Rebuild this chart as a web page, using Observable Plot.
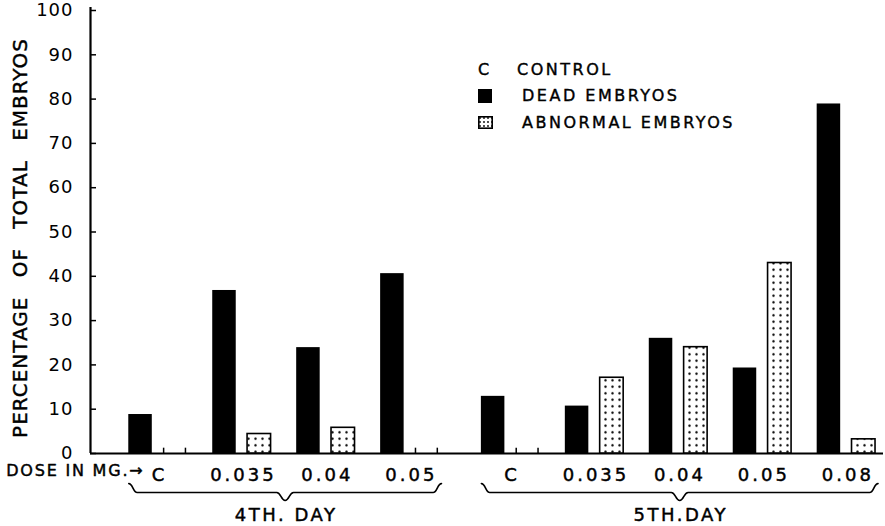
<!DOCTYPE html>
<html>
<head>
<meta charset="utf-8">
<script src="https://cdn.jsdelivr.net/npm/d3@7"></script>
<script src="https://cdn.jsdelivr.net/npm/@observablehq/plot@0.6"></script>
<style>
  body { margin: 0; background: #fff; }
  #wrap { position: relative; width: 885px; height: 526px; font-family: "DejaVu Sans", sans-serif; color: #000; }
  #wrap svg.chart { position: absolute; left: 0; top: 0; }
  .lg { position: absolute; font-size: 16px; line-height: 16px; letter-spacing: 2.5px; white-space: nowrap; -webkit-text-stroke: 0.4px #000; }
  .sw { position: absolute; }
</style>
</head>
<body>
<div id="wrap">
  <div id="legend"></div>
</div>
<script>
// ---------- data ----------
const doses = ["C", "0.035", "0.04", "0.05", "C", "0.035", "0.04", "0.05", "0.08"];
const dayOf = ["4TH. DAY", "4TH. DAY", "4TH. DAY", "4TH. DAY", "5TH.DAY", "5TH.DAY", "5TH.DAY", "5TH.DAY", "5TH.DAY"];
const days = ["4TH. DAY", "5TH.DAY"];
const deadEmbryos = [8.8, 36.8, 23.9, 40.6, 12.9, 10.7, 26.0, 19.3, 78.9];
const abnormalEmbryos = [0, 4.4, 5.8, 0, 0, 17.1, 24.0, 43.0, 3.2];
const yTicks = [0, 10, 20, 30, 40, 50, 60, 70, 80, 90, 100];
const legendLabels = ["CONTROL", "DEAD EMBRYOS", "ABNORMAL EMBRYOS"];
const yTitle = "PERCENTAGE OF TOTAL EMBRYOS";
const doseTitle = "DOSE IN MG.\u2192";

// ---------- layout (in x-scale units: one unit = one dose group) ----------
const DAY_GAP = 0.2, BAR_W = 0.28, ABN_OFF = 0.415;
const X_DOMAIN = [-0.456, 8.99];
const W = 885, H = 526, ML = 90, MR = 2, MT = 10, MB = 73;

const groups = doses.map((dose, i) => ({
  dose, day: dayOf[i],
  pos: i + days.indexOf(dayOf[i]) * DAY_GAP,
  dead: deadEmbryos[i], abnormal: abnormalEmbryos[i]
}));
const abnBars = groups.filter(g => g.abnormal > 0);
const zeroAbn = groups.filter(g => g.abnormal === 0)
  .flatMap(g => [g.pos + ABN_OFF, g.pos + ABN_OFF + 0.26]);

const dayInfo = days.map(day => {
  const gs = groups.filter(g => g.day === day);
  const x0 = d3.min(gs, g => g.pos), x1 = d3.max(gs, g => g.pos) + ABN_OFF + BAR_W + 0.03;
  return {day, x0, x1, xc: (x0 + x1) / 2};
});
const braceTop = -6.8, braceMid = -8.8, braceTip = -10.6, bw = 0.1;
const braces = dayInfo.flatMap(d => [
  [d.x0, braceTop], [d.x0 + bw, braceMid], [d.xc - bw, braceMid], [d.xc, braceTip],
  [d.xc + bw, braceMid], [d.x1 - bw, braceMid], [d.x1, braceTop]
].map(([x, y]) => ({day: d.day, x, y})));

const txt = {fill: "#000", stroke: "#000", strokeWidth: 0.45};
const chart = Plot.plot({
  width: W, height: H,
  marginLeft: ML, marginRight: MR, marginTop: MT, marginBottom: MB,
  style: {fontFamily: "'DejaVu Sans', sans-serif", color: "#000", background: "#fff", overflow: "visible"},
  x: {domain: X_DOMAIN, axis: null},
  y: {domain: [0, 100], axis: null},
  marks: [
    Plot.axisY({ticks: yTicks, tickSize: 0, tickPadding: 17, fontSize: 18, label: null, ...txt}),
    Plot.tickY(yTicks, {y: d => d, insetRight: W - ML - MR - 6, strokeWidth: 1.5}),
    Plot.ruleX([X_DOMAIN[0]], {insetTop: -3, strokeWidth: 2.2}),
    Plot.ruleY([0], {strokeWidth: 2.2}),
    Plot.rect(groups, {x1: "pos", x2: g => g.pos + BAR_W, y1: () => 0, y2: "dead", fill: "#000"}),
    Plot.rect(abnBars, {x1: g => g.pos + ABN_OFF, x2: g => g.pos + ABN_OFF + BAR_W, y1: () => 0, y2: "abnormal",
      fill: "url(#dots)", stroke: "#000", strokeWidth: 1.6}),
    Plot.ruleX(zeroAbn, {x: d => d, y1: () => 0, y2: () => 1.2, strokeWidth: 1.5}),
    Plot.text(groups, {x: g => g.pos + (ABN_OFF + BAR_W) / 2, y: () => 0, dx: 1.5, dy: 22, text: "dose", fontSize: 18, ...txt}),
    Plot.text([doseTitle], {frameAnchor: "bottom-left", dx: 54, dy: 22, textAnchor: "end", fontSize: 16, ...txt}),
    Plot.line(braces, {x: "x", y: "y", z: "day", curve: "bump-x", stroke: "#000", strokeWidth: 1.6}),
    Plot.text(dayInfo, {x: "xc", y: () => 0, dx: 1, dy: 62, text: "day", fontSize: 18, ...txt}),
    Plot.text([yTitle], {frameAnchor: "left", textAnchor: "middle", rotate: -90, dx: -70, dy: 6, fontSize: 20, ...txt})
  ]
});
chart.classList.add("chart");

// dotted fill pattern
const svgNS = "http://www.w3.org/2000/svg";
const defs = document.createElementNS(svgNS, "defs");
defs.innerHTML = `<pattern id="dots" width="7" height="6.5" patternUnits="userSpaceOnUse">
  <rect width="7" height="6.5" fill="#fff"/><circle cx="3.5" cy="3.2" r="1.2" fill="#000"/></pattern>`;
chart.insertBefore(defs, chart.firstChild);

// letter spacing by text role
const spacing = (t) => {
  if (t === yTitle) return ["1px", "12px"];
  if (t === doseTitle) return ["1.8px", null];
  if (days.includes(t)) return ["2.5px", null];
  if (doses.includes(t)) return ["3px", null];
  if (yTicks.map(String).includes(t)) return ["1px", null];
  return [null, null];
};
d3.select(chart).selectAll("text").each(function () {
  const [ls, ws] = spacing(this.textContent);
  if (ls) this.style.letterSpacing = ls;
  if (ws) this.style.wordSpacing = ws;
});

const wrap = document.getElementById("wrap");
wrap.insertBefore(chart, wrap.firstChild);

// legend
const lg = document.getElementById("legend");
lg.innerHTML = `
  <span class="lg" style="left:478px;top:62px;">C</span>
  <span class="lg" style="left:517px;top:62px;">${legendLabels[0]}</span>
  <svg class="sw" style="left:478px;top:89px;" width="14" height="14"><rect width="14" height="14" fill="#000"/></svg>
  <span class="lg" style="left:522px;top:88px;">${legendLabels[1]}</span>
  <svg class="sw" style="left:478px;top:116px;" width="15" height="13">
    <defs><pattern id="dotsL" width="4" height="4" patternUnits="userSpaceOnUse"><rect width="4" height="4" fill="#fff"/><circle cx="2" cy="2" r="0.9" fill="#000"/></pattern></defs>
    <rect x="0.8" y="0.8" width="13.4" height="11.4" fill="url(#dotsL)" stroke="#000" stroke-width="1.6"/></svg>
  <span class="lg" style="left:522px;top:115px;">${legendLabels[2]}</span>`;
</script>
</body>
</html>
